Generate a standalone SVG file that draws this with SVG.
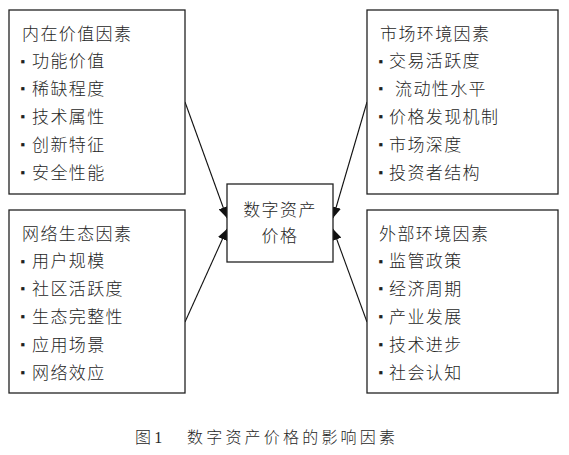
<svg xmlns="http://www.w3.org/2000/svg" width="569" height="455" viewBox="0 0 569 455">
<style>
.box{fill:#fff;stroke:#222;stroke-width:1.3}
.t{font-family:"Liberation Serif","Noto Sans CJK SC",serif;font-size:17px;font-weight:300;fill:#262626;letter-spacing:1.4px}
.b{font-family:"DejaVu Sans",sans-serif;font-size:13px;letter-spacing:0;fill:#222}
.c{font-family:"Liberation Serif","Noto Sans CJK SC",serif;font-size:16px;font-weight:300;fill:#262626;letter-spacing:3.2px}
.ln{stroke:#111;stroke-width:1.1;fill:none}
</style>
<defs>
<marker id="ah" markerUnits="userSpaceOnUse" markerWidth="12" markerHeight="10" refX="11" refY="5" orient="auto">
<path d="M0,0 L11,5 L0,10 Z" fill="#111"/>
</marker>
</defs>
<rect width="569" height="455" fill="#fff"/>
<g id="connectors">
<line class="ln" x1="185" y1="102" x2="227" y2="218" marker-end="url(#ah)"/>
<line class="ln" x1="185" y1="322" x2="227" y2="229" marker-end="url(#ah)"/>
<line class="ln" x1="367" y1="102" x2="333" y2="218" marker-end="url(#ah)"/>
<line class="ln" x1="367" y1="322" x2="333" y2="229" marker-end="url(#ah)"/>
</g>
<g id="intrinsic">
<rect class="box" x="9" y="10" width="176" height="184"/>
<text class="t" x="22" y="39.5">内在价值因素</text>
<text class="t" x="20.5" y="65.5"><tspan class="b">▪</tspan><tspan x="32" y="67.3">功能价值</tspan></text>
<text class="t" x="20.5" y="93.3"><tspan class="b">▪</tspan><tspan x="32" y="95.1">稀缺程度</tspan></text>
<text class="t" x="20.5" y="121.1"><tspan class="b">▪</tspan><tspan x="32" y="122.9">技术属性</tspan></text>
<text class="t" x="20.5" y="148.9"><tspan class="b">▪</tspan><tspan x="32" y="150.7">创新特征</tspan></text>
<text class="t" x="20.5" y="176.7"><tspan class="b">▪</tspan><tspan x="32" y="178.5">安全性能</tspan></text>
</g>
<g id="market">
<rect class="box" x="367" y="10" width="191" height="184"/>
<text class="t" x="380" y="39.5">市场环境因素</text>
<text class="t" x="378.5" y="65.5"><tspan class="b">▪</tspan><tspan x="389" y="67.3">交易活跃度</tspan></text>
<text class="t" x="378.5" y="93.3"><tspan class="b">▪</tspan><tspan x="395" y="95.1">流动性水平</tspan></text>
<text class="t" x="378.5" y="121.1"><tspan class="b">▪</tspan><tspan x="389" y="122.9">价格发现机制</tspan></text>
<text class="t" x="378.5" y="148.9"><tspan class="b">▪</tspan><tspan x="389" y="150.7">市场深度</tspan></text>
<text class="t" x="378.5" y="176.7"><tspan class="b">▪</tspan><tspan x="389" y="178.5">投资者结构</tspan></text>
</g>
<g id="network">
<rect class="box" x="9" y="210" width="176" height="183"/>
<text class="t" x="22" y="239.5">网络生态因素</text>
<text class="t" x="20.5" y="265.5"><tspan class="b">▪</tspan><tspan x="32" y="267.3">用户规模</tspan></text>
<text class="t" x="20.5" y="293.3"><tspan class="b">▪</tspan><tspan x="32" y="295.1">社区活跃度</tspan></text>
<text class="t" x="20.5" y="321.1"><tspan class="b">▪</tspan><tspan x="32" y="322.9">生态完整性</tspan></text>
<text class="t" x="20.5" y="348.9"><tspan class="b">▪</tspan><tspan x="32" y="350.7">应用场景</tspan></text>
<text class="t" x="20.5" y="376.7"><tspan class="b">▪</tspan><tspan x="32" y="378.5">网络效应</tspan></text>
</g>
<g id="external">
<rect class="box" x="367" y="210" width="191" height="183"/>
<text class="t" x="379" y="239.5">外部环境因素</text>
<text class="t" x="378.5" y="265.5"><tspan class="b">▪</tspan><tspan x="389" y="267.3">监管政策</tspan></text>
<text class="t" x="378.5" y="293.3"><tspan class="b">▪</tspan><tspan x="389" y="295.1">经济周期</tspan></text>
<text class="t" x="378.5" y="321.1"><tspan class="b">▪</tspan><tspan x="389" y="322.9">产业发展</tspan></text>
<text class="t" x="378.5" y="348.9"><tspan class="b">▪</tspan><tspan x="389" y="350.7">技术进步</tspan></text>
<text class="t" x="378.5" y="376.7"><tspan class="b">▪</tspan><tspan x="389" y="378.5">社会认知</tspan></text>
</g>
<g id="price">
<rect class="box" x="227" y="184" width="106" height="78"/>
<text class="t" x="280" y="215.5" text-anchor="middle" letter-spacing="1">数字资产</text>
<text class="t" x="280" y="241.5" text-anchor="middle" letter-spacing="1">价格</text>
</g>
<g id="caption">
<text class="c" x="135" y="443">图1</text>
<text class="c" x="187" y="443">数字资产价格的影响因素</text>
</g>
</svg>
